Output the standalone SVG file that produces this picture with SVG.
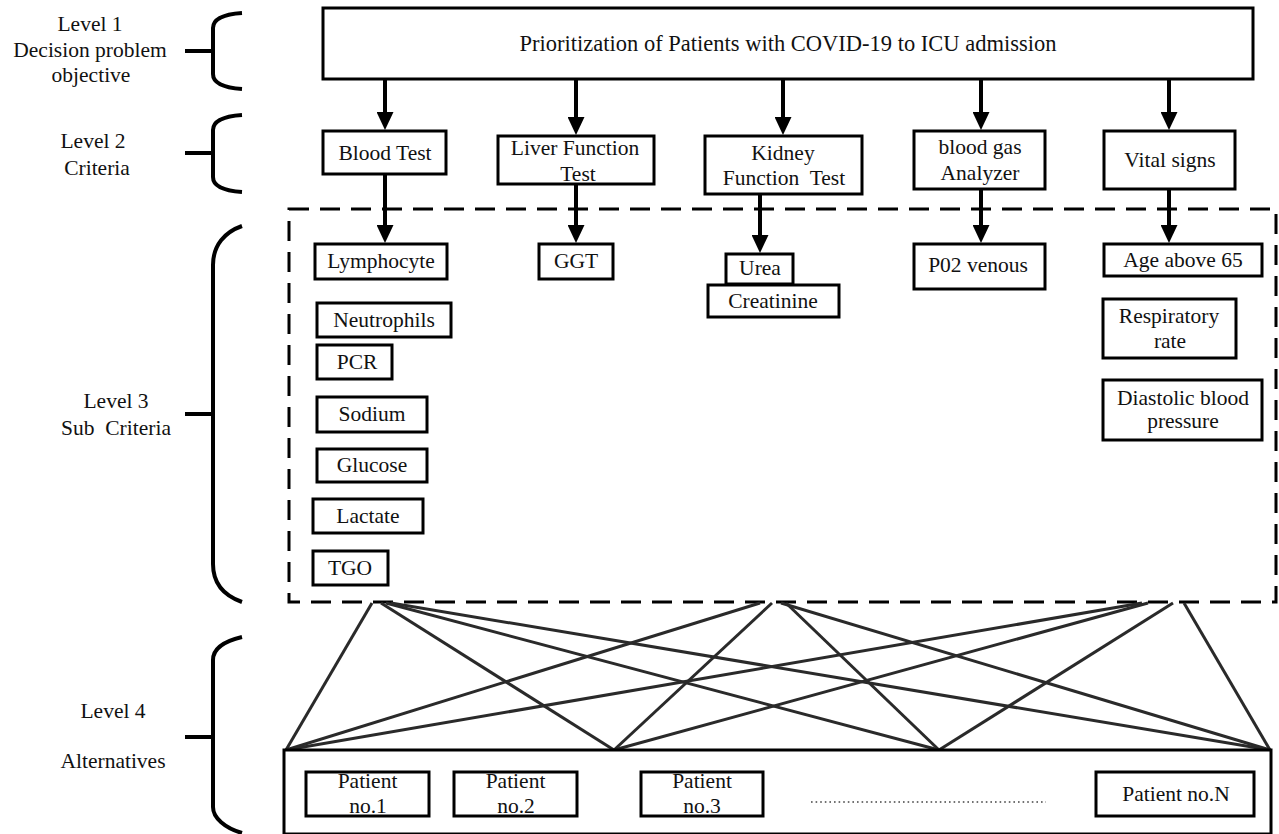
<svg xmlns="http://www.w3.org/2000/svg" width="1279" height="834" viewBox="0 0 1279 834" font-family="'Liberation Serif', 'DejaVu Serif', 'Noto Serif', serif">
<defs>
<style>
text{font-family:'Liberation Serif','DejaVu Serif','Noto Serif',serif;font-size:21.5px;fill:#111;text-anchor:middle}
.box{fill:#fff;stroke:#000;stroke-width:3}
.brace{fill:none;stroke:#000;stroke-width:4}
.arr{stroke:#000;stroke-width:4;fill:none;marker-end:url(#ah)}
.web{stroke:#2a2a2a;stroke-width:3;fill:none}
.dash{fill:none;stroke:#000;stroke-width:3;stroke-dasharray:20 11}
</style>
<marker id="ah" markerUnits="userSpaceOnUse" markerWidth="18" markerHeight="17" refX="6" refY="8.5" orient="auto">
<path d="M0,0 L18,8.5 L0,17 Z" fill="#000"/>
</marker>
</defs>
<rect width="1279" height="834" fill="#fff"/>

<g id="levels">
<g id="level1">
<path class="brace" d="M185,51 H213 M242,13 Q213,15 213,28 L213,74 Q213,87 242,89"/>
<text x="90" y="31">Level 1</text>
<text x="90" y="57">Decision problem</text>
<text x="91" y="82">objective</text>
</g>
<g id="level2">
<path class="brace" d="M185,153 H213 M242,115 Q213,117 213,130 L213,177 Q213,190 242,192"/>
<text x="93" y="148">Level 2</text>
<text x="97" y="175">Criteria</text>
</g>
<g id="level3">
<path class="brace" d="M185,414 H213 M242,226 C225,232 213,245 213,265 L213,564 C213,584 225,596 242,602"/>
<text x="116" y="408">Level 3</text>
<text x="116" y="435">Sub&#160; Criteria</text>
</g>
<g id="level4">
<path class="brace" d="M185,737 H213 M242,637 C225,641 213,648 213,660 L213,807 C213,818 225,828 242,833"/>
<text x="113" y="718">Level 4</text>
<text x="113" y="768">Alternatives</text>
</g>
</g>

<g id="subcriteria-frame">
<rect class="dash" x="289" y="209" width="987" height="393"/>
</g>

<g id="connectors">
<line class="arr" x1="385" y1="79" x2="385" y2="118"/>
<line class="arr" x1="576" y1="79" x2="576" y2="123"/>
<line class="arr" x1="783" y1="79" x2="783" y2="123"/>
<line class="arr" x1="981" y1="79" x2="981" y2="118"/>
<line class="arr" x1="1169" y1="79" x2="1169" y2="118"/>
<line class="arr" x1="385" y1="174" x2="385" y2="231"/>
<line class="arr" x1="576" y1="184" x2="576" y2="231"/>
<line class="arr" x1="760" y1="194" x2="760" y2="241"/>
<line class="arr" x1="981" y1="189" x2="981" y2="231"/>
<line class="arr" x1="1169" y1="189" x2="1169" y2="231"/>
<g id="web">
<line class="web" x1="372" y1="603" x2="286" y2="750"/>
<line class="web" x1="381" y1="603" x2="614" y2="750"/>
<line class="web" x1="386" y1="603" x2="939" y2="750"/>
<line class="web" x1="391" y1="603" x2="1270" y2="750"/>
<line class="web" x1="760" y1="603" x2="286" y2="750"/>
<line class="web" x1="772" y1="603" x2="614" y2="750"/>
<line class="web" x1="786" y1="603" x2="939" y2="750"/>
<line class="web" x1="781" y1="603" x2="1270" y2="750"/>
<line class="web" x1="1142" y1="603" x2="286" y2="750"/>
<line class="web" x1="1148" y1="603" x2="614" y2="750"/>
<line class="web" x1="1173" y1="603" x2="939" y2="750"/>
<line class="web" x1="1184" y1="603" x2="1270" y2="750"/>
</g>
</g>

<g id="goal">
<rect class="box" x="323" y="8" width="930" height="71"/>
<text x="788" y="51" style="font-size:22.5px">Prioritization of Patients with COVID-19 to ICU admission</text>
</g>

<g id="blood-test">
<rect class="box" x="323" y="131" width="123" height="43"/>
<text x="385" y="160">Blood Test</text>
</g>
<g id="liver-function-test">
<rect class="box" x="498" y="136" width="156" height="48"/>
<text x="575" y="155">Liver Function</text>
<text x="578" y="181">Test</text>
</g>
<g id="kidney-function-test">
<rect class="box" x="705" y="136" width="157" height="58"/>
<text x="783" y="160">Kidney</text>
<text x="784" y="185">Function&#160; Test</text>
</g>
<g id="blood-gas-analyzer">
<rect class="box" x="914" y="131" width="131" height="58"/>
<text x="980" y="154">blood gas</text>
<text x="980" y="180">Analyzer</text>
</g>
<g id="vital-signs">
<rect class="box" x="1104" y="131" width="131" height="58"/>
<text x="1170" y="167">Vital signs</text>
</g>

<g id="lymphocyte">
<rect class="box" x="315" y="244" width="132" height="35"/>
<text x="381" y="268">Lymphocyte</text>
</g>
<g id="ggt">
<rect class="box" x="539" y="244" width="74" height="35"/>
<text x="576" y="268">GGT</text>
</g>
<g id="urea">
<rect class="box" x="726" y="254" width="67" height="30"/>
<text x="760" y="275">Urea</text>
</g>
<g id="creatinine">
<rect class="box" x="708" y="285" width="131" height="32"/>
<text x="773" y="308">Creatinine</text>
</g>
<g id="p02-venous">
<rect class="box" x="914" y="244" width="131" height="45"/>
<text x="978" y="272">P02 venous</text>
</g>
<g id="age-above-65">
<rect class="box" x="1104" y="244" width="158" height="32"/>
<text x="1183" y="267">Age above 65</text>
</g>
<g id="neutrophils">
<rect class="box" x="317" y="303" width="134" height="34"/>
<text x="384" y="327">Neutrophils</text>
</g>
<g id="pcr">
<rect class="box" x="317" y="345" width="75" height="34"/>
<text x="357" y="369">PCR</text>
</g>
<g id="sodium">
<rect class="box" x="317" y="397" width="110" height="35"/>
<text x="372" y="421">Sodium</text>
</g>
<g id="glucose">
<rect class="box" x="317" y="449" width="110" height="33"/>
<text x="372" y="472">Glucose</text>
</g>
<g id="lactate">
<rect class="box" x="313" y="499" width="110" height="34"/>
<text x="368" y="523">Lactate</text>
</g>
<g id="tgo">
<rect class="box" x="313" y="551" width="75" height="34"/>
<text x="350" y="575">TGO</text>
</g>
<g id="respiratory-rate">
<rect class="box" x="1103" y="299" width="133" height="59"/>
<text x="1169" y="323">Respiratory</text>
<text x="1170" y="348">rate</text>
</g>
<g id="diastolic-blood-pressure">
<rect class="box" x="1103" y="380" width="159" height="60"/>
<text x="1183" y="405">Diastolic blood</text>
<text x="1183" y="428">pressure</text>
</g>

<g id="alternatives">
<rect class="box" x="284" y="750" width="987" height="84"/>
<g id="patient-1">
<rect class="box" x="306" y="772" width="123" height="44"/>
<text x="367.5" y="788">Patient</text>
<text x="368" y="813">no.1</text>
</g>
<g id="patient-2">
<rect class="box" x="454" y="772" width="123" height="44"/>
<text x="515.5" y="788">Patient</text>
<text x="516" y="813">no.2</text>
</g>
<g id="patient-3">
<rect class="box" x="641" y="772" width="122" height="44"/>
<text x="702" y="788">Patient</text>
<text x="702" y="813">no.3</text>
</g>
<line x1="811" y1="802" x2="1046" y2="802" stroke="#444" stroke-width="1.6" stroke-dasharray="1.6 3"/>
<g id="patient-n">
<rect class="box" x="1096" y="772" width="158" height="44"/>
<text x="1176" y="801">Patient no.N</text>
</g>
</g>
</svg>
